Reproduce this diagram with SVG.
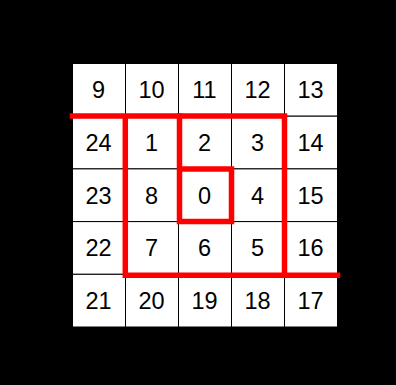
<svg xmlns="http://www.w3.org/2000/svg" width="396" height="385" viewBox="0 0 396 385">
<style>
.c{fill:#fff;stroke:#000;stroke-width:1}
.t{font-family:"Liberation Sans",Arial,sans-serif;font-size:23.5px;fill:#000;text-anchor:middle}
.r{fill:none;stroke:#f00;stroke-width:5.5;stroke-linecap:square}
</style>
<rect width="396" height="385" fill="#000"/>
<g id="row0">
<g id="n9"><rect class="c" x="72.5" y="63.5" width="53" height="52.7"/><text class="t" x="98.5" y="98.3">9</text></g>
<g id="n10"><rect class="c" x="125.5" y="63.5" width="53" height="52.7"/><text class="t" x="151.5" y="98.3">10</text></g>
<g id="n11"><rect class="c" x="178.5" y="63.5" width="53" height="52.7"/><text class="t" x="204.5" y="98.3">11</text></g>
<g id="n12"><rect class="c" x="231.5" y="63.5" width="53" height="52.7"/><text class="t" x="257.5" y="98.3">12</text></g>
<g id="n13"><rect class="c" x="284.5" y="63.5" width="53" height="52.7"/><text class="t" x="310.5" y="98.3">13</text></g>
</g>
<g id="row1">
<g id="n24"><rect class="c" x="72.5" y="116.2" width="53" height="52.7"/><text class="t" x="98.5" y="151">24</text></g>
<g id="n1"><rect class="c" x="125.5" y="116.2" width="53" height="52.7"/><text class="t" x="151.5" y="151">1</text></g>
<g id="n2"><rect class="c" x="178.5" y="116.2" width="53" height="52.7"/><text class="t" x="204.5" y="151">2</text></g>
<g id="n3"><rect class="c" x="231.5" y="116.2" width="53" height="52.7"/><text class="t" x="257.5" y="151">3</text></g>
<g id="n14"><rect class="c" x="284.5" y="116.2" width="53" height="52.7"/><text class="t" x="310.5" y="151">14</text></g>
</g>
<g id="row2">
<g id="n23"><rect class="c" x="72.5" y="168.9" width="53" height="52.7"/><text class="t" x="98.5" y="203.7">23</text></g>
<g id="n8"><rect class="c" x="125.5" y="168.9" width="53" height="52.7"/><text class="t" x="151.5" y="203.7">8</text></g>
<g id="n0"><rect class="c" x="178.5" y="168.9" width="53" height="52.7"/><text class="t" x="204.5" y="203.7">0</text></g>
<g id="n4"><rect class="c" x="231.5" y="168.9" width="53" height="52.7"/><text class="t" x="257.5" y="203.7">4</text></g>
<g id="n15"><rect class="c" x="284.5" y="168.9" width="53" height="52.7"/><text class="t" x="310.5" y="203.7">15</text></g>
</g>
<g id="row3">
<g id="n22"><rect class="c" x="72.5" y="221.6" width="53" height="52.7"/><text class="t" x="98.5" y="256.4">22</text></g>
<g id="n7"><rect class="c" x="125.5" y="221.6" width="53" height="52.7"/><text class="t" x="151.5" y="256.4">7</text></g>
<g id="n6"><rect class="c" x="178.5" y="221.6" width="53" height="52.7"/><text class="t" x="204.5" y="256.4">6</text></g>
<g id="n5"><rect class="c" x="231.5" y="221.6" width="53" height="52.7"/><text class="t" x="257.5" y="256.4">5</text></g>
<g id="n16"><rect class="c" x="284.5" y="221.6" width="53" height="52.7"/><text class="t" x="310.5" y="256.4">16</text></g>
</g>
<g id="row4">
<g id="n21"><rect class="c" x="72.5" y="274.3" width="53" height="52.7"/><text class="t" x="98.5" y="309.1">21</text></g>
<g id="n20"><rect class="c" x="125.5" y="274.3" width="53" height="52.7"/><text class="t" x="151.5" y="309.1">20</text></g>
<g id="n19"><rect class="c" x="178.5" y="274.3" width="53" height="52.7"/><text class="t" x="204.5" y="309.1">19</text></g>
<g id="n18"><rect class="c" x="231.5" y="274.3" width="53" height="52.7"/><text class="t" x="257.5" y="309.1">18</text></g>
<g id="n17"><rect class="c" x="284.5" y="274.3" width="53" height="52.7"/><text class="t" x="310.5" y="309.1">17</text></g>
</g>
<g id="connectors">
<path class="r" stroke-linecap="butt" d="M72.5,116 H284.5 V275.3 M125.3,116 V275.3 H337.5"/>
<path class="r" d="M179.5,116 V221.5 H231.5 V169 H179.5"/>
</g>
</svg>
